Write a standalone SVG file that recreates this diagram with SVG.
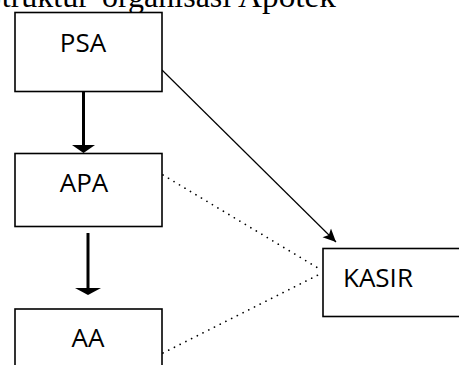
<svg xmlns="http://www.w3.org/2000/svg" width="459" height="365" viewBox="0 0 459 365">
<style>
.box{fill:#fff;stroke:#000;stroke-width:1.6}
.lbl{font-family:"Open Sans","Noto Sans",sans-serif;font-size:26px;fill:#000}
.title{font-family:"Liberation Serif","Times New Roman",serif;font-size:32px;fill:#000}
.thick{stroke:#000;stroke-width:3;fill:none}
.thin{stroke:#000;stroke-width:1.2;fill:none}
.dot{stroke:#000;stroke-width:1.7;fill:none;stroke-dasharray:0.1 6.3;stroke-linecap:round}
</style>
<defs>
<marker id="ah" markerUnits="userSpaceOnUse" markerWidth="14" markerHeight="14" refX="13" refY="7" orient="auto">
<path d="M0,1 L13,7 L0,13 L3,7 Z" fill="#000"/>
</marker>
</defs>
<rect width="459" height="365" fill="#fff"/>
<text class="title" y="7"><tspan x="-16">Struktur</tspan><tspan x="102">organisasi</tspan><tspan x="238" textLength="98" lengthAdjust="spacingAndGlyphs">Apotek</tspan></text>
<g id="connectors">
<line class="thick" x1="83.5" y1="78" x2="83.5" y2="146"/>
<path d="M72,145 L95,145 L83.5,153 Z" fill="#000"/>
<line class="thick" x1="88" y1="233" x2="88" y2="289"/>
<path d="M75,288 L101,288 L88,295 Z" fill="#000"/>
<line class="thin" x1="162" y1="70" x2="336" y2="242" marker-end="url(#ah)"/>
<line class="dot" x1="163" y1="175" x2="318" y2="268"/>
<line class="dot" x1="163" y1="353" x2="318" y2="275"/>
</g>
<g id="PSA">
<rect class="box" x="15" y="12.5" width="147" height="79"/>
<text class="lbl" x="83" y="52" text-anchor="middle">PSA</text>
</g>
<g id="APA">
<rect class="box" x="15" y="153.5" width="147" height="73"/>
<text class="lbl" x="84" y="192" text-anchor="middle">APA</text>
</g>
<g id="AA">
<rect class="box" x="15" y="309" width="147" height="70"/>
<text class="lbl" x="88" y="347" text-anchor="middle">AA</text>
</g>
<g id="KASIR">
<rect class="box" x="323" y="248.5" width="150" height="68"/>
<text class="lbl" x="343" y="287">KASIR</text>
</g>
</svg>
